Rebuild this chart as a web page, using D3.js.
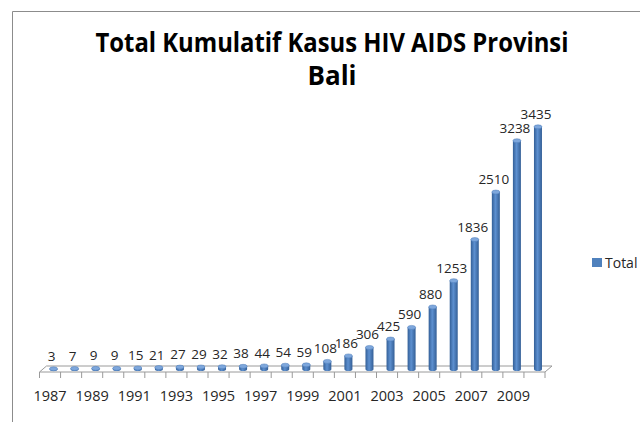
<!DOCTYPE html>
<html>
<head>
<meta charset="utf-8">
<script src="https://cdn.jsdelivr.net/npm/d3@7"></script>
<style>
  body { margin: 0; background: #fff; }
  svg { display: block; }
  text { font-family: "Open Sans", sans-serif; fill: #262626; }
</style>
</head>
<body>
<svg width="640" height="422"></svg>
<script>
const years = ['1987','1988','1989','1990','1991','1992','1993','1994','1995','1996','1997','1998',
  '1999','2000','2001','2002','2003','2004','2005','2006','2007','2008','2009','2010']
const totals = [3, 7, 9, 9, 15, 21, 27, 29, 32, 38, 44, 54, 59, 108, 186, 306, 425, 590, 880, 1253, 1836, 2510, 3238, 3435]
const tickYears = ['1987','1989','1991','1993','1995','1997','1999','2001','2003','2005','2007','2009']
const seriesName = 'Total'

const svg = d3.select('svg')
const floorY = 372
const depthX = 7
const depthY = 6

// chart frame
svg.append('path')
  .attr('d', 'M12.5,422 V11.5 H640')
  .attr('fill', 'none')
  .attr('stroke', '#8c8c8c')

// title
const title = svg.append('g').style('font-family', 'Lato, sans-serif').style('font-weight', 'bold')
title.append('text')
  .attr('x', 332).attr('y', 52)
  .attr('text-anchor', 'middle')
  .attr('font-size', 26)
  .attr('textLength', 473).attr('lengthAdjust', 'spacingAndGlyphs')
  .style('fill', '#000')
  .text('Total Kumulatif Kasus HIV AIDS Provinsi')
title.append('text')
  .attr('x', 332).attr('y', 85)
  .attr('text-anchor', 'middle')
  .attr('font-size', 26)
  .style('fill', '#000')
  .text('Bali')

const x = d3.scaleBand().domain(years).range([39.5, 545]).padding(0)
const y = d3.scaleLinear().domain([0, 4000]).range([floorY - depthY / 2, 87])

// cylinder gradient
const defs = svg.append('defs')
const grad = defs.append('linearGradient').attr('id', 'cyl').attr('x1', 0).attr('x2', 1).attr('y1', 0).attr('y2', 0)
grad.append('stop').attr('offset', '0%').attr('stop-color', '#335f97')
grad.append('stop').attr('offset', '45%').attr('stop-color', '#5d90d0')
grad.append('stop').attr('offset', '100%').attr('stop-color', '#345f96')

// floor
const x0 = x.range()[0], x1 = x.range()[1]
svg.append('path')
  .attr('d', `M${x0},${floorY} L${x1},${floorY} L${x1 + depthX},${floorY - depthY} L${x0 + depthX},${floorY - depthY} Z`)
  .attr('fill', 'none')
  .attr('stroke', '#9a9a9a')

// tick marks at category boundaries
const bounds = years.map(d => x(d)).concat([x1])
svg.append('g').selectAll('line').data(bounds)
  .enter().append('line')
    .attr('x1', d => d).attr('x2', d => d)
    .attr('y1', floorY).attr('y2', floorY + 6)
    .attr('stroke', '#9a9a9a')

// bars
const barW = 8
const ry = 2
const cx = d => x(d) + x.bandwidth() / 2 + depthX / 2
const bars = svg.append('g').selectAll('g').data(years.map((d, i) => ({ year: d, value: totals[i] })))
  .enter().append('g')
bars.append('path')
  .attr('d', d => {
    const top = y(d.value), bottom = y(0), l = cx(d.year) - barW / 2, r = cx(d.year) + barW / 2
    return `M${l},${top} L${l},${bottom} A${barW / 2},${ry} 0 0 0 ${r},${bottom} L${r},${top} Z`
  })
  .attr('fill', 'url(#cyl)')
bars.append('ellipse')
  .attr('cx', d => cx(d.year))
  .attr('cy', d => y(d.value))
  .attr('rx', barW / 2).attr('ry', ry)
  .attr('fill', '#7ea7dc')
  .attr('stroke', '#4a7bb9').attr('stroke-width', 0.5)

// data labels
bars.append('text')
  .attr('x', d => cx(d.year) - 2)
  .attr('y', d => y(d.value) - 8)
  .attr('text-anchor', 'middle')
  .attr('font-size', 13.5)
  .text(d => d.value)

// category labels
const axis = d3.axisBottom(x).tickValues(tickYears).tickSize(0).tickPadding(0)
const axisG = svg.append('g').attr('transform', `translate(0,${floorY + 19})`).call(axis)
axisG.select('.domain').remove()
axisG.selectAll('text').attr('font-size', 14.5).attr('dy', '0.71em').style('fill', '#262626').style('font-family', '"Open Sans", sans-serif')

// legend
const legend = svg.append('g').attr('transform', 'translate(592,258)')
legend.append('rect').attr('width', 10).attr('height', 9).attr('fill', '#4f81bd')
legend.append('text').attr('x', 13).attr('y', 9.5).attr('font-size', 14).text(seriesName)
</script>
</body>
</html>
